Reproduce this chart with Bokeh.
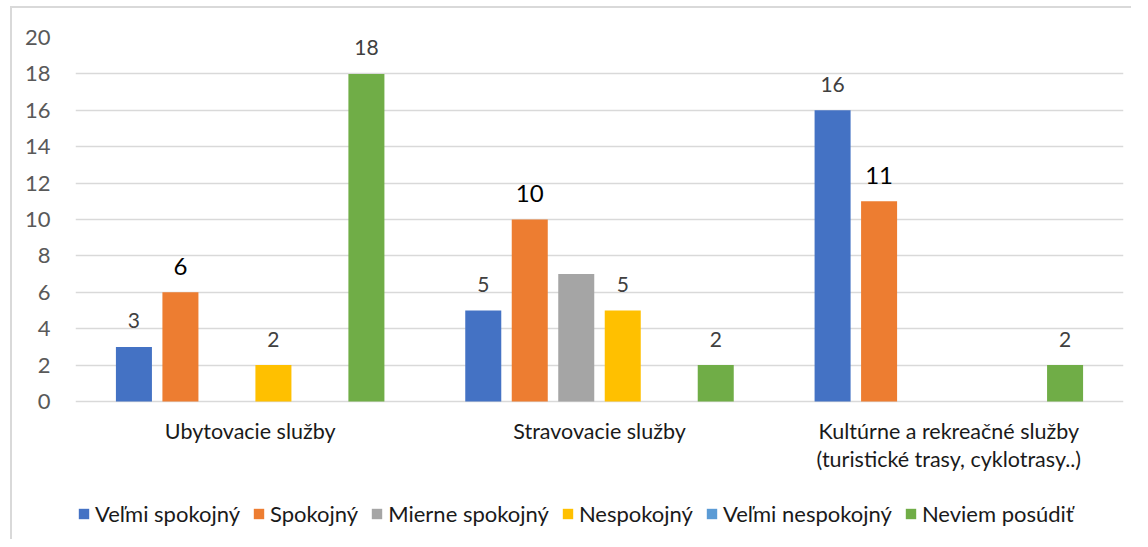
from bokeh.plotting import figure
from bokeh.models import ColumnDataSource, Range1d, FixedTicker, Legend, LegendItem
from bokeh.transform import dodge
from bokeh.core.properties import value
from bokeh.embed import file_html
from bokeh.resources import INLINE

# ---- data ----
categories = [
    "Ubytovacie služby",
    "Stravovacie služby",
    "Kultúrne a rekreačné služby\n(turistické trasy, cyklotrasy..)",
]
series_names = ["Veľmi spokojný", "Spokojný", "Mierne spokojný",
                "Nespokojný", "Veľmi nespokojný", "Neviem posúdiť"]
velmi_spokojny = [3, 5, 16]
spokojny = [6, 10, 11]
mierne_spokojny = [0, 7, 0]
nespokojny = [2, 5, 0]
velmi_nespokojny = [0, 0, 0]
neviem_posudit = [18, 2, 2]
series_values = [velmi_spokojny, spokojny, mierne_spokojny,
                 nespokojny, velmi_nespokojny, neviem_posudit]
series_colors = ["#4472C4", "#ED7D31", "#A5A5A5", "#FFC000", "#5B9BD5", "#70AD47"]
series_show_labels = [True, True, False, True, True, True]
y_ticks = [0, 2, 4, 6, 8, 10, 12, 14, 16, 18, 20]

FONT = "Lato"

# frame extends below the value axis so that category labels and legend fit inside
PLOT_H = 364      # px for 0..20
BELOW_H = 138     # px below zero line
y_low = -20 * BELOW_H / PLOT_H

p = figure(x_range=categories, y_range=Range1d(y_low, 20),
           frame_width=1048, frame_height=PLOT_H + BELOW_H,
           output_backend="svg", toolbar_location=None,
           min_border_left=63, min_border_right=8, min_border_top=29,
           min_border_bottom=0)
p.outline_line_color = None
p.styles = {"border-left": "2px solid #d9d9d9", "border-top": "2px solid #d9d9d9",
            "margin-left": "10px", "margin-top": "6px"}

p.xgrid.grid_line_color = None
p.ygrid.grid_line_color = "#d9d9d9"
p.ygrid.grid_line_width = 1.6

p.yaxis.ticker = FixedTicker(ticks=y_ticks)
p.yaxis.axis_line_color = None
p.yaxis.major_tick_line_color = None
p.yaxis.minor_tick_line_color = None
p.yaxis.major_label_text_font = FONT
p.yaxis.major_label_text_font_size = "22px"
p.yaxis.major_label_text_color = "#595959"
p.yaxis.major_label_standoff = 19

p.xaxis.visible = False

# category labels under the zero line
csrc = ColumnDataSource(dict(cat=categories, y=[0] * len(categories)))
p.text(x="cat", y="y", text="cat", source=csrc, text_align="center",
       text_baseline="top", y_offset=16, text_line_height=1.08,
       text_font=value(FONT), text_font_size="21.5px", text_color="#1a1a1a")

n = len(series_names)
pitch = 0.1331
bar_w = 0.1031
items = []
for j, (name, vals, col, show) in enumerate(zip(series_names, series_values,
                                                  series_colors, series_show_labels)):
    off = (j - (n - 1) / 2) * pitch
    src = ColumnDataSource(dict(cat=categories, val=vals))
    r = p.vbar(x=dodge("cat", off, range=p.x_range), top="val", width=bar_w,
               source=src, fill_color=col, line_color=None)
    items.append(LegendItem(label=name, renderers=[r]))
    if show:
        lc = [c for c, v in zip(categories, vals) if v > 0]
        lv = [v for v in vals if v > 0]
        lsrc = ColumnDataSource(dict(cat=lc, val=lv, txt=[str(v) for v in lv]))
        big = (j == 1)
        p.text(x=dodge("cat", off, range=p.x_range), y="val", text="txt", source=lsrc,
               text_align="center", text_baseline="alphabetic", y_offset=-26,
               text_font=value(FONT),
               text_font_size="24px" if big else "21px",
               text_color="#000000" if big else "#404040")

legend = Legend(items=items, orientation="horizontal", location=(2, 12),
                glyph_width=13, glyph_height=13, label_standoff=5, spacing=12,
                label_text_font=FONT, label_text_font_size="22px",
                label_text_color="#1a1a1a", border_line_color=None,
                background_fill_alpha=0, margin=0, padding=0)
p.add_layout(legend, "center")

open("out.html", "w").write(file_html(p, INLINE))
